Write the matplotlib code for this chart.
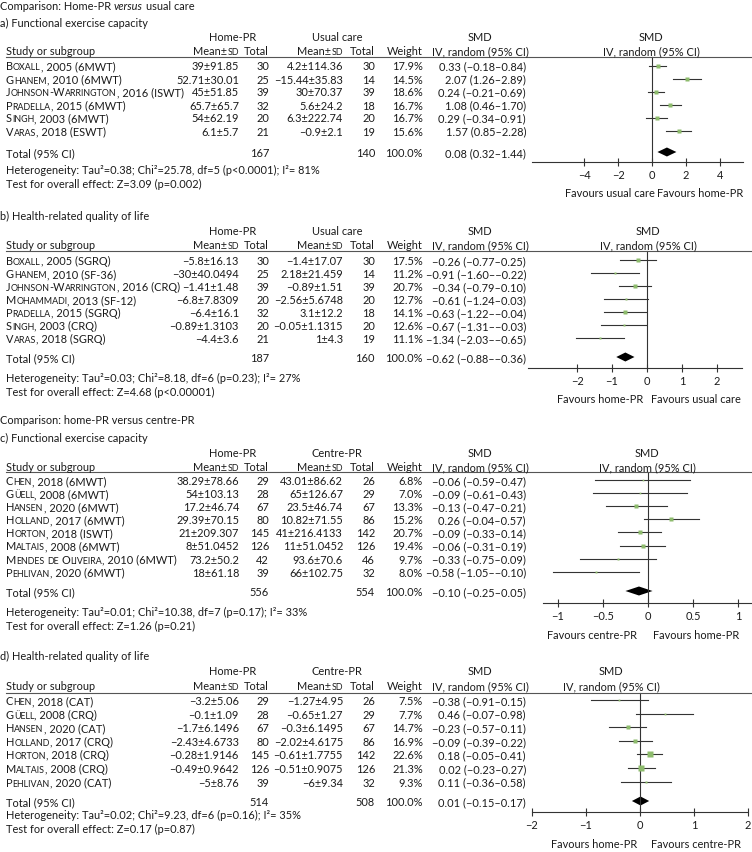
import matplotlib
matplotlib.use('Agg')
import matplotlib.pyplot as plt
from matplotlib.lines import Line2D

# ---- a) home-PR vs usual care, functional exercise capacity
studies_a = ["Boxall", "Ghanem", "Johnson-Warrington", "Pradella", "Singh", "Varas"]
tags_a = ["2005 (6MWT)", "2010 (6MWT)", "2016 (ISWT)", "2015 (6MWT)", "2003 (6MWT)", "2018 (ESWT)"]
home_mean_a = [39, 52.71, 45, 65.7, 54, 6.1]
home_sd_a = [91.85, 30.01, 51.85, 65.7, 62.19, 5.7]
home_n_a = [30, 25, 39, 32, 20, 21]
ctrl_mean_a = [4.2, -15.44, 30, 5.6, 6.3, -0.9]
ctrl_sd_a = [114.36, 35.83, 70.37, 24.2, 222.74, 2.1]
ctrl_n_a = [30, 14, 39, 18, 20, 19]
weight_a = [17.9, 14.5, 18.6, 16.7, 16.7, 15.6]
smd_a = [0.33, 2.07, 0.24, 1.08, 0.29, 1.57]
lo_a = [-0.18, 1.26, -0.21, 0.46, -0.34, 0.85]
hi_a = [0.84, 2.89, 0.69, 1.70, 0.91, 2.28]
total_a = [167, 140, 0.08, 0.32, 1.44]
het_a = ["Heterogeneity: Tau²=0.38; Chi²=25.78, df=5 (p<0.0001); I²= 81%",
         "Test for overall effect: Z=3.09 (p=0.002)"]
ticks_a = [-4, -2, 0, 2, 4]

# ---- b) home-PR vs usual care, health-related quality of life
studies_b = ["Boxall", "Ghanem", "Johnson-Warrington", "Mohammadi", "Pradella", "Singh", "Varas"]
tags_b = ["2005 (SGRQ)", "2010 (SF-36)", "2016 (CRQ)", "2013 (SF-12)", "2015 (SGRQ)", "2003 (CRQ)", "2018 (SGRQ)"]
home_mean_b = [-5.8, -30, -1.41, -6.8, -6.4, -0.89, -4.4]
home_sd_b = [16.13, 40.0494, 1.48, 7.8309, 16.1, 1.3103, 3.6]
home_n_b = [30, 25, 39, 20, 32, 20, 21]
ctrl_mean_b = [-1.4, 2.18, -0.89, -2.56, 3.1, -0.05, 1]
ctrl_sd_b = [17.07, 21.459, 1.51, 5.6748, 12.2, 1.1315, 4.3]
ctrl_n_b = [30, 14, 39, 20, 18, 20, 19]
weight_b = [17.5, 11.2, 20.7, 12.7, 14.1, 12.6, 11.1]
smd_b = [-0.26, -0.91, -0.34, -0.61, -0.63, -0.67, -1.34]
lo_b = [-0.77, -1.60, -0.79, -1.24, -1.22, -1.31, -2.03]
hi_b = [0.25, -0.22, 0.10, 0.03, -0.04, -0.03, -0.65]
total_b = [187, 160, -0.62, -0.88, -0.36]
het_b = ["Heterogeneity: Tau²=0.03; Chi²=8.18, df=6 (p=0.23); I²= 27%",
         "Test for overall effect: Z=4.68 (p<0.00001)"]
ticks_b = [-2, -1, 0, 1, 2]

# ---- c) home-PR vs centre-PR, functional exercise capacity
studies_c = ["Chen", "Güell", "Hansen", "Holland", "Horton", "Maltais", "Mendes de Oliveira", "Pehlivan"]
tags_c = ["2018 (6MWT)", "2008 (6MWT)", "2020 (6MWT)", "2017 (6MWT)", "2018 (ISWT)", "2008 (6MWT)",
          "2010 (6MWT)", "2020 (6MWT)"]
home_mean_c = [38.29, 54, 17.2, 29.39, 21, 8, 73.2, 18]
home_sd_c = [78.66, 103.13, 46.74, 70.15, 209.307, 51.0452, 50.2, 61.18]
home_n_c = [29, 28, 67, 80, 145, 126, 42, 39]
ctrl_mean_c = [43.01, 65, 23.5, 10.82, 41, 11, 93.6, 66]
ctrl_sd_c = [86.62, 126.67, 46.74, 71.55, 216.4133, 51.0452, 70.6, 102.75]
ctrl_n_c = [26, 29, 67, 86, 142, 126, 46, 32]
weight_c = [6.8, 7.0, 13.3, 15.2, 20.7, 19.4, 9.7, 8.0]
smd_c = [-0.06, -0.09, -0.13, 0.26, -0.09, -0.06, -0.33, -0.58]
lo_c = [-0.59, -0.61, -0.47, -0.04, -0.33, -0.31, -0.75, -1.05]
hi_c = [0.47, 0.43, 0.21, 0.57, 0.14, 0.19, 0.09, -0.10]
total_c = [556, 554, -0.10, -0.25, 0.05]
het_c = ["Heterogeneity: Tau²=0.01; Chi²=10.38, df=7 (p=0.17); I²= 33%",
         "Test for overall effect: Z=1.26 (p=0.21)"]
ticks_c = [-1, -0.5, 0, 0.5, 1]

# ---- d) home-PR vs centre-PR, health-related quality of life
studies_d = ["Chen", "Güell", "Hansen", "Holland", "Horton", "Maltais", "Pehlivan"]
tags_d = ["2018 (CAT)", "2008 (CRQ)", "2020 (CAT)", "2017 (CRQ)", "2018 (CRQ)", "2008 (CRQ)", "2020 (CAT)"]
home_mean_d = [-3.2, -0.1, -1.7, -2.43, -0.28, -0.49, -5]
home_sd_d = [5.06, 1.09, 6.1496, 4.6733, 1.9146, 0.9642, 8.76]
home_n_d = [29, 28, 67, 80, 145, 126, 39]
ctrl_mean_d = [-1.27, -0.65, -0.3, -2.02, -0.61, -0.51, -6]
ctrl_sd_d = [4.95, 1.27, 6.1495, 4.6175, 1.7755, 0.9075, 9.34]
ctrl_n_d = [26, 29, 67, 86, 142, 126, 32]
weight_d = [7.5, 7.7, 14.7, 16.9, 22.6, 21.3, 9.3]
smd_d = [-0.38, 0.46, -0.23, -0.09, 0.18, 0.02, 0.11]
lo_d = [-0.91, -0.07, -0.57, -0.39, -0.05, -0.23, -0.36]
hi_d = [0.15, 0.98, 0.11, 0.22, 0.41, 0.27, 0.58]
total_d = [514, 508, 0.01, -0.15, 0.17]
het_d = ["Heterogeneity: Tau²=0.02; Chi²=9.23, df=6 (p=0.16); I²= 35%",
         "Test for overall effect: Z=0.17 (p=0.87)"]
ticks_d = [-2, -1, 0, 1, 2]

W, H = 752, 853
FS = 7.95
SMALL = 0.8
INK = '#1a1a1a'
LINE = '#333333'
GREEN = '#8dbb6c'

plt.rcParams['font.family'] = ['Lato', 'DejaVu Sans']
fig = plt.figure(figsize=(W / 100, H / 100), dpi=100)
renderer = fig.canvas.get_renderer()


def put(x, y, s, size=FS, ha='left', style='normal'):
    # pixel coords from the top-left corner, y is the baseline
    return fig.text(x / W, 1 - y / H, s, fontsize=size, ha=ha, va='baseline',
                    color=INK, style=style)


def width(s, size=FS, style='normal'):
    t = put(0, 100, s, size, style=style)
    w = t.get_window_extent(renderer).width
    t.remove()
    return w


def draw_runs(x, y, runs, ha='left'):
    ws = []
    for r in runs:
        st = r[2] if len(r) > 2 else 'normal'
        if r[0] == ' ':
            ws.append(width('a a', r[1]) - width('aa', r[1]))
        else:
            ws.append(width(r[0], r[1], st))
    total = sum(ws)
    if ha == 'right':
        x -= total
    elif ha == 'center':
        x -= total / 2
    for r, w in zip(runs, ws):
        if r[0] != ' ':
            put(x, y, r[0], r[1], style=r[2] if len(r) > 2 else 'normal')
        x += w


def caps_runs(s):
    runs = []
    for ch in s:
        if ch == ' ':
            runs.append([' ', FS])
            continue
        size = FS * SMALL if ch.islower() else FS
        if runs and runs[-1][1] == size and runs[-1][0] != ' ':
            runs[-1][0] += ch.upper()
        else:
            runs.append([ch.upper(), size])
    return runs


def num(v):
    return str(v).replace('-', '−')


def ci(e, lo, hi):
    return f"{e:.2f} ({lo:.2f}–{hi:.2f})".replace('-', '−')


def hline(y):
    fig.add_artist(Line2D([6 / W, 1], [1 - y / H] * 2, color='#555555', lw=0.8))


def forest(studies, tags, hm, hs, hn, cm, cs, cn, wt, smd, lo, hi, total, het, ticks,
           groups, favours, lay):
    b = 4  # centre -> baseline offset
    # column headers
    put(233, lay['hdr1'] + b, groups[0], ha='center')
    put(337, lay['hdr1'] + b, groups[1], ha='center')
    put(480, lay['hdr1'] + b, "SMD", ha='center')
    put(lay['hdr_x'], lay['hdr1'] + b, "SMD", ha='center')
    y2 = lay['hdr2'] + b
    put(6, y2, "Study or subgroup")
    draw_runs(239, y2, [["Mean±", FS], ["SD", FS * SMALL]], ha='right')
    put(269, y2, "Total", ha='right')
    draw_runs(343, y2, [["Mean±", FS], ["SD", FS * SMALL]], ha='right')
    put(375, y2, "Total", ha='right')
    put(423, y2, "Weight", ha='right')
    put(480, y2, "IV, random (95% CI)", ha='center')
    put(lay['hdr_x'], y2, "IV, random (95% CI)", ha='center')
    hline(lay['line'])

    # forest axes, y in pixels
    l, r = lay['ax']
    top, bot = lay['line'], lay['axis']
    ax = fig.add_axes([l / W, 1 - bot / H, (r - l) / W, (bot - top) / H])
    ax.set_xlim(*lay['xlim'])
    ax.set_ylim(bot, top)
    ax.patch.set_alpha(0)
    for s in ['top', 'left', 'right']:
        ax.spines[s].set_visible(False)
    ax.spines['bottom'].set_color(LINE)
    ax.spines['bottom'].set_linewidth(0.8)
    ax.set_yticks([])
    ax.set_xticks(ticks, [num(t) for t in ticks])
    ax.tick_params(axis='x', direction='inout', length=6, width=0.8, color=LINE,
                   labelsize=FS, labelcolor=INK, pad=2)
    ax.plot([0, 0], [bot, top], color=LINE, lw=0.8, clip_on=False)

    for i in range(len(studies)):
        y = lay['row0'] + i * lay['step']
        draw_runs(6, y + b, caps_runs(studies[i]) + [[", " + tags[i], FS]])
        put(239, y + b, num(hm[i]) + "±" + num(hs[i]), ha='right')
        put(269, y + b, str(hn[i]), ha='right')
        put(343, y + b, num(cm[i]) + "±" + num(cs[i]), ha='right')
        put(375, y + b, str(cn[i]), ha='right')
        put(423, y + b, f"{wt[i]:.1f}%", ha='right')
        put(526, y + b, ci(smd[i], lo[i], hi[i]), ha='right')
        ax.plot([lo[i], hi[i]], [y, y], color=LINE, lw=0.8, clip_on=False)
        ax.plot(smd[i], y, 's', ms=wt[i] * 0.17, color=GREEN, mec='none', clip_on=False)

    ty = lay['total']
    put(6, ty + b, "Total (95% CI)")
    put(269, ty + b, str(total[0]), ha='right')
    put(375, ty + b, str(total[1]), ha='right')
    put(423, ty + b, "100.0%", ha='right')
    put(526, ty + b, ci(total[2], total[3], total[4]), ha='right')
    mid = (total[3] + total[4]) / 2
    ax.fill([total[3], mid, total[4], mid], [ty, ty - 4.5, ty, ty + 4.5],
            color='black', lw=0, clip_on=False)

    put(6, lay['het'] + b, het[0])
    put(6, lay['het'] + 14 + b, het[1])

    z = l + (0 - lay['xlim'][0]) / (lay['xlim'][1] - lay['xlim'][0]) * (r - l)
    put(z - lay['gap'][0], lay['fav'] + b, favours[0], ha='right')
    put(z + lay['gap'][1], lay['fav'] + b, favours[1], ha='left')


# titles
draw_runs(0, 10, [["Comparison: Home-PR", FS], [' ', FS], ["versus", FS, 'italic'],
                  [' ', FS], ["usual care", FS]])
put(0, 27, "a) Functional exercise capacity")
put(0, 220, "b) Health-related quality of life")
put(0, 424, "Comparison: home-PR versus centre-PR")
put(0, 442, "c) Functional exercise capacity")
put(0, 660, "d) Health-related quality of life")

forest(studies_a, tags_a, home_mean_a, home_sd_a, home_n_a, ctrl_mean_a, ctrl_sd_a, ctrl_n_a,
       weight_a, smd_a, lo_a, hi_a, total_a, het_a, ticks_a,
       ["Home-PR", "Usual care"], ["Favours usual care", "Favours home-PR"],
       dict(hdr1=37, hdr2=51, line=58, row0=66.5, step=13, total=153, het=170, axis=163,
            fav=193, ax=(532, 743), xlim=(-7.1, 5.38), hdr_x=651, gap=(-3, 5)))

forest(studies_b, tags_b, home_mean_b, home_sd_b, home_n_b, ctrl_mean_b, ctrl_sd_b, ctrl_n_b,
       weight_b, smd_b, lo_b, hi_b, total_b, het_b, ticks_b,
       ["Home-PR", "Usual care"], ["Favours home-PR", "Favours usual care"],
       dict(hdr1=231, hdr2=245, line=252, row0=261, step=13, total=358, het=378, axis=369,
            fav=399, ax=(528, 742), xlim=(-3.4, 2.71), hdr_x=648, gap=(4, 4)))

forest(studies_c, tags_c, home_mean_c, home_sd_c, home_n_c, ctrl_mean_c, ctrl_sd_c, ctrl_n_c,
       weight_c, smd_c, lo_c, hi_c, total_c, het_c, ticks_c,
       ["Home-PR", "Centre-PR"], ["Favours centre-PR", "Favours home-PR"],
       dict(hdr1=453, hdr2=467, line=473, row0=481, step=13.1, total=592, het=612, axis=604,
            fav=635, ax=(543, 752), xlim=(-1.163, 1.152), hdr_x=647, gap=(11, 5)))

forest(studies_d, tags_d, home_mean_d, home_sd_d, home_n_d, ctrl_mean_d, ctrl_sd_d, ctrl_n_d,
       weight_d, smd_d, lo_d, hi_d, total_d, het_d, ticks_d,
       ["Home-PR", "Centre-PR"], ["Favours home-PR", "Favours centre-PR"],
       dict(hdr1=671, hdr2=686, line=694, row0=701, step=13.6, total=802, het=815, axis=813,
            fav=844, ax=(532, 748), xlim=(-2, 2), hdr_x=611, gap=(3, 11)))

fig.savefig('out.png', dpi=100)
